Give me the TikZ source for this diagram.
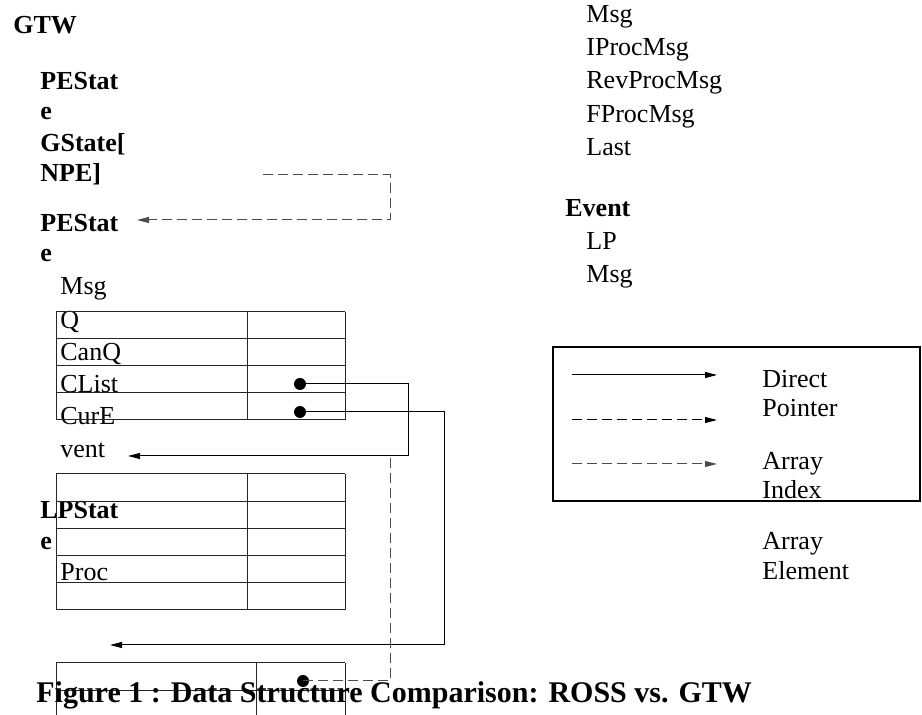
\documentclass[tikz,border=0pt]{standalone}
\usepackage{fontspec}
\setmainfont{Liberation Serif}
\usetikzlibrary{arrows.meta}

\begin{document}
\begin{tikzpicture}[x=0.5pt, y=-0.5pt,
	every node/.style={font=\fontsize{13}{15}\selectfont, anchor=base west, inner sep=0pt},
	bold/.style={font=\fontsize{13}{15}\selectfont\bfseries},
	ptr/.style={-{Triangle[length=6pt,width=3pt]}, line width=0.5pt},
	idx/.style={ptr, draw=black!70, dash pattern=on 5pt off 2.5pt},
	dot/.style={circle, fill, minimum size=6pt, anchor=center},
	cell/.style={line width=0.5pt, draw=black!85}]
	\useasboundingbox (0,0) rectangle (922,715);
	% left column
	\node[bold] (gtw) at (13,34) {GTW};
	\foreach \t/\y [count=\i] in {PEStat/90, e/120, {GState[}/152, {NPE]}/182, PEStat/232, e/262}
		\node[bold] (pe\i) at (40,\y) {\t};
	\foreach \t/\y [count=\i] in {Msg/295, Q/329, CanQ/361, CList/393, CurE/425, vent/458}
		\node (msg\i) at (60,\y) {\t};
	\node[bold] (lp1) at (40,519) {LPStat};
	\node[bold] (lp2) at (40,550) {e};
	\node (proc) at (60,581) {Proc};
	% tables
	\foreach \y in {312,339,366,393,420} \draw[cell] (56,\y) -- (345,\y);
	\foreach \x in {56,247,345} \draw[cell] (\x,312) -- (\x,420);
	\foreach \y in {474,502,529,556,583,610} \draw[cell] (56,\y) -- (345,\y);
	\foreach \x in {56,247,345} \draw[cell] (\x,474) -- (\x,610);
	\foreach \y in {663,691} \draw[cell] (56,\y) -- (345,\y);
	\foreach \x in {56,256,345} \draw[cell] (\x,663) -- (\x,715);
	% pointers
	\node[dot] (clist) at (300,384) {};
	\node[dot] (cure) at (300,412) {};
	\node[dot] (elem) at (303,681) {};
	\coordinate (gsrc) at (263,175);
	\coordinate (pein) at (137,220);
	\coordinate (ventin) at (128,456);
	\coordinate (lpin) at (110,645);
	\coordinate (idxtop) at (390,457);
	\draw[idx] (gsrc) -- ++(127,0) |- (pein);
	\draw[ptr] (clist.center) -- ++(108,0) |- (ventin);
	\draw[ptr] (cure.center) -- ++(144,0) |- (lpin);
	\draw[idx, -] (elem.center) -| (idxtop);
	% right column
	\foreach \t/\y [count=\i] in {Msg/23, IProcMsg/56, RevProcMsg/89, FProcMsg/123, Last/156}
		\node (ross\i) at (586,\y) {\t};
	\node[bold] (event) at (565,217) {Event};
	\node (ev1) at (586,250) {LP};
	\node (ev2) at (586,283) {Msg};
	% legend
	\draw[line width=1pt] (553,347) rectangle (920,501);
	\coordinate (k1) at (572,375);
	\coordinate (k2) at (572,420);
	\coordinate (k3) at (572,464);
	\draw[ptr] (k1) -- ++(145,0);
	\draw[ptr, dash pattern=on 5pt off 2.5pt] (k2) -- ++(145,0);
	\draw[idx] (k3) -- ++(145,0);
	\foreach \t/\y [count=\i] in {Direct/388, Pointer/417, Array/470, Index/499, Array/550, Element/580}
		\node (key\i) at (762,\y) {\t};
	% caption
	\node[font=\fontsize{15}{18}\selectfont\bfseries] (cap) at (36,703) {Figure 1 : Data Structure Comparison: ROSS vs. GTW};
\end{tikzpicture}
\end{document}
